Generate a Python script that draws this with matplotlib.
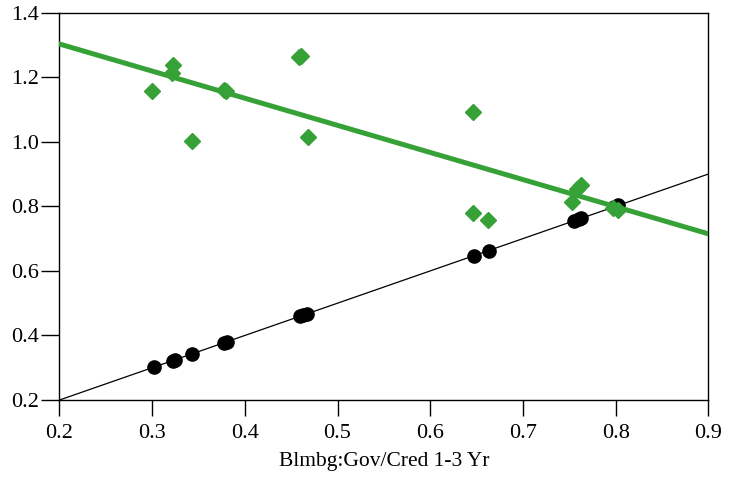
import matplotlib
matplotlib.use("Agg")
import matplotlib.pyplot as plt
import numpy as np

plt.rcParams['font.family'] = ['Liberation Serif', 'DejaVu Serif']

# black points lie on the 45 degree line
black_x = [0.302, 0.322, 0.325, 0.343, 0.377, 0.381, 0.459, 0.463, 0.467,
           0.647, 0.663, 0.755, 0.760, 0.763, 0.798, 0.803]
black_y = list(black_x)

green_x = [0.300, 0.321, 0.323, 0.343, 0.377, 0.380, 0.458, 0.461, 0.468,
           0.646, 0.646, 0.662, 0.753, 0.758, 0.763, 0.797, 0.803]
green_y = [1.156, 1.212, 1.237, 1.002, 1.162, 1.156, 1.264, 1.267, 1.014,
           1.092, 0.780, 0.758, 0.814, 0.854, 0.866, 0.795, 0.789]

# fitted line end points
fit_x = [0.2, 0.9]
fit_y = [1.303, 0.715]
diag_x = [0.2, 0.9]
diag_y = [0.2, 0.9]

xticks = [0.2, 0.3, 0.4, 0.5, 0.6, 0.7, 0.8, 0.9]
yticks = [0.2, 0.4, 0.6, 0.8, 1.0, 1.2, 1.4]

fig = plt.figure(figsize=(7.37, 4.79), dpi=100)
ax = fig.add_axes([0.0807, 0.1649, 0.8803, 0.8086])

ax.plot(diag_x, diag_y, color='black', lw=0.9, zorder=2)
ax.plot(black_x, black_y, 'o', color='black', ms=9.5, mec='black', zorder=3)
ax.plot(fit_x, fit_y, color='#36a136', lw=3.6, zorder=4)
ax.plot(green_x, green_y, 'D', color='#36a136', ms=8.5, mec='#36a136', zorder=5)

ax.set_xlim(0.2, 0.9)
ax.set_ylim(0.2, 1.4)
ax.set_xticks(xticks)
ax.set_yticks(yticks)
ax.set_xticklabels(['%.1f' % v for v in xticks])
ax.set_yticklabels(['%.1f' % v for v in yticks])
ax.tick_params(axis='x', direction='out', length=11.5, width=1, labelsize=16, pad=6)
ax.tick_params(axis='y', direction='out', length=13, width=1, labelsize=16, pad=1.5)
for s in ax.spines.values():
    s.set_linewidth(1)
    s.set_color('black')
ax.set_xlabel('Blmbg:Gov/Cred 1-3 Yr', fontsize=15.5, labelpad=6)

fig.savefig('out.png', dpi=100)
